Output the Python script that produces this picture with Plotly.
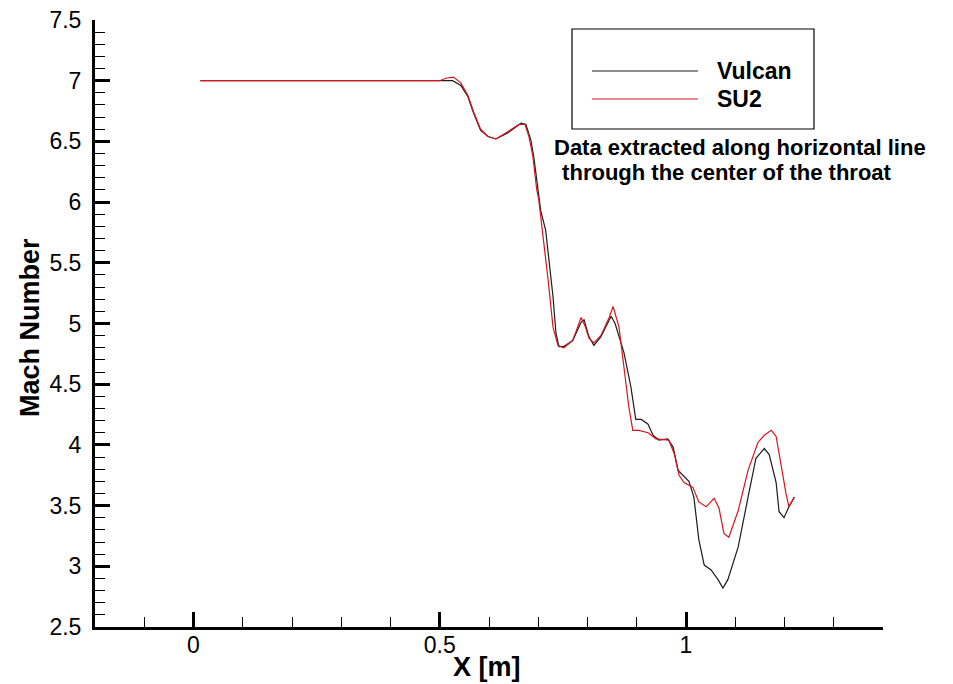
import plotly.graph_objects as go

# Mach number along the horizontal line through the throat centre
vulcan_x = [0.014, 0.20, 0.40, 0.50, 0.526, 0.543, 0.557, 0.569, 0.583, 0.598, 0.614,
            0.638, 0.665, 0.675, 0.685, 0.691, 0.701, 0.705, 0.715, 0.722, 0.730,
            0.736, 0.742, 0.752, 0.770, 0.787, 0.793, 0.803, 0.813, 0.827, 0.848,
            0.856, 0.868, 0.874, 0.888, 0.898, 0.909, 0.923, 0.933, 0.945, 0.963,
            0.974, 0.984, 0.996, 1.006, 1.016, 1.026, 1.037, 1.051, 1.065, 1.075,
            1.085, 1.106, 1.126, 1.142, 1.159, 1.169, 1.183, 1.189, 1.199, 1.209, 1.220]
vulcan_m = [7.0, 7.0, 7.0, 7.0, 7.0, 6.96, 6.87, 6.73, 6.59, 6.54, 6.52,
            6.57, 6.65, 6.64, 6.51, 6.37, 6.07, 5.93, 5.77, 5.50, 5.22,
            4.92, 4.81, 4.81, 4.86, 5.01, 5.03, 4.89, 4.82, 4.89, 5.06,
            5.00, 4.84, 4.76, 4.48, 4.21, 4.21, 4.17, 4.08, 4.04, 4.05,
            3.98, 3.79, 3.74, 3.70, 3.57, 3.22, 3.01, 2.97, 2.89, 2.82,
            2.89, 3.16, 3.57, 3.89, 3.97, 3.92, 3.69, 3.45, 3.40, 3.49, 3.57]

su2_x = [0.014, 0.20, 0.40, 0.50, 0.512, 0.528, 0.543, 0.557, 0.569, 0.583, 0.598,
         0.614, 0.638, 0.661, 0.673, 0.681, 0.689, 0.697, 0.701, 0.709, 0.720,
         0.730, 0.740, 0.752, 0.770, 0.787, 0.795, 0.803, 0.813, 0.827, 0.844,
         0.852, 0.864, 0.874, 0.884, 0.892, 0.904, 0.923, 0.939, 0.965, 0.976,
         0.986, 0.996, 1.014, 1.026, 1.041, 1.057, 1.067, 1.077, 1.087, 1.106,
         1.126, 1.146, 1.159, 1.173, 1.183, 1.193, 1.203, 1.209, 1.220]
su2_m = [7.0, 7.0, 7.0, 7.0, 7.02, 7.03, 6.98, 6.88, 6.74, 6.60, 6.54,
         6.52, 6.58, 6.64, 6.64, 6.54, 6.38, 6.10, 6.02, 5.75, 5.36,
         4.97, 4.82, 4.80, 4.86, 5.05, 4.98, 4.88, 4.84, 4.90, 5.05,
         5.14, 4.97, 4.64, 4.31, 4.12, 4.12, 4.10, 4.05, 4.04, 3.93,
         3.75, 3.69, 3.65, 3.53, 3.49, 3.56, 3.48, 3.27, 3.24, 3.46,
         3.79, 4.02, 4.08, 4.12, 4.07, 3.82, 3.60, 3.49, 3.57]

x_ticks = [0, 0.5, 1]
x_tick_text = ["0", "0.5", "1"]
y_ticks = [2.5, 3, 3.5, 4, 4.5, 5, 5.5, 6, 6.5, 7, 7.5]
y_tick_text = ["2.5", "3", "3.5", "4", "4.5", "5", "5.5", "6", "6.5", "7", "7.5"]

series_names = ["Vulcan", "SU2"]
series_colors = ["#1c1c1c", "#d8141c"]

FONT = "Liberation Sans, Arial, sans-serif"

fig = go.Figure()
fig.add_trace(go.Scatter(x=vulcan_x, y=vulcan_m, mode="lines", name=series_names[0],
                         line=dict(color=series_colors[0], width=1.2)))
fig.add_trace(go.Scatter(x=su2_x, y=su2_m, mode="lines", name=series_names[1],
                         line=dict(color=series_colors[1], width=1.2)))

axis_common = dict(showline=True, linecolor="black", linewidth=3, showgrid=False,
                   zeroline=False, ticks="inside", ticklen=15, tickwidth=3,
                   tickcolor="black", automargin=False,
                   tickfont=dict(family=FONT, size=23, color="black"))

fig.update_xaxes(range=[-0.2, 1.4], tickvals=x_ticks, ticktext=x_tick_text,
                 ticklabelstandoff=-5,
                 minor=dict(ticks="inside", ticklen=10, tickwidth=1.2, tickcolor="black",
                            dtick=0.1, tick0=0, showgrid=False),
                 **axis_common)
fig.update_yaxes(range=[2.5, 7.5], tickvals=y_ticks, ticktext=y_tick_text,
                 ticklabelstandoff=6,
                 minor=dict(ticks="inside", ticklen=10, tickwidth=1.2, tickcolor="black",
                            dtick=0.1, tick0=2.5, showgrid=False),
                 **axis_common)

# plot area in pixels: x 95..883, y 20..627
L, R, T, B = 95, 883, 20, 627


def px(xp):
    return (xp - L) / (R - L)


def py(yp):
    return (B - yp) / (B - T)


shapes = [
    dict(type="rect", xref="paper", yref="paper", x0=px(572), x1=px(814),
         y0=py(129), y1=py(29), line=dict(color="black", width=1.2), fillcolor="white"),
]
annotations = []
for i, (name, color) in enumerate(zip(series_names, series_colors)):
    yy = 71 + i * 28
    shapes.append(dict(type="line", xref="paper", yref="paper", x0=px(592), x1=px(698),
                       y0=py(yy), y1=py(yy), line=dict(color=color, width=1.2)))
    annotations.append(dict(xref="paper", yref="paper", x=px(715), y=py(yy),
                            xanchor="left", yanchor="middle", showarrow=False,
                            text=f"<b>{name}</b>",
                            font=dict(family=FONT, size=23, color="black")))

annotations += [
    dict(xref="paper", yref="paper", x=px(552), y=py(147), xanchor="left",
         yanchor="middle", showarrow=False,
         text="<b>Data extracted along horizontal line</b>",
         font=dict(family=FONT, size=22, color="black")),
    dict(xref="paper", yref="paper", x=px(554), y=py(172), xanchor="left",
         yanchor="middle", showarrow=False,
         text="<b> through the center of the throat</b>",
         font=dict(family=FONT, size=22, color="black")),
    dict(xref="paper", yref="paper", x=px(30), y=py(328), xanchor="center",
         yanchor="middle", showarrow=False, textangle=-90,
         text="<b>Mach Number</b>",
         font=dict(family=FONT, size=27, color="black")),
    dict(xref="paper", yref="paper", x=px(487), y=py(667), xanchor="center",
         yanchor="middle", showarrow=False,
         text="<b>X [m]</b>",
         font=dict(family=FONT, size=27, color="black")),
]

fig.update_layout(width=953, height=684, showlegend=False,
                  margin=dict(l=L, r=953 - R, t=T, b=684 - B),
                  plot_bgcolor="white", paper_bgcolor="white",
                  shapes=shapes, annotations=annotations)

fig.write_html("out.html")
